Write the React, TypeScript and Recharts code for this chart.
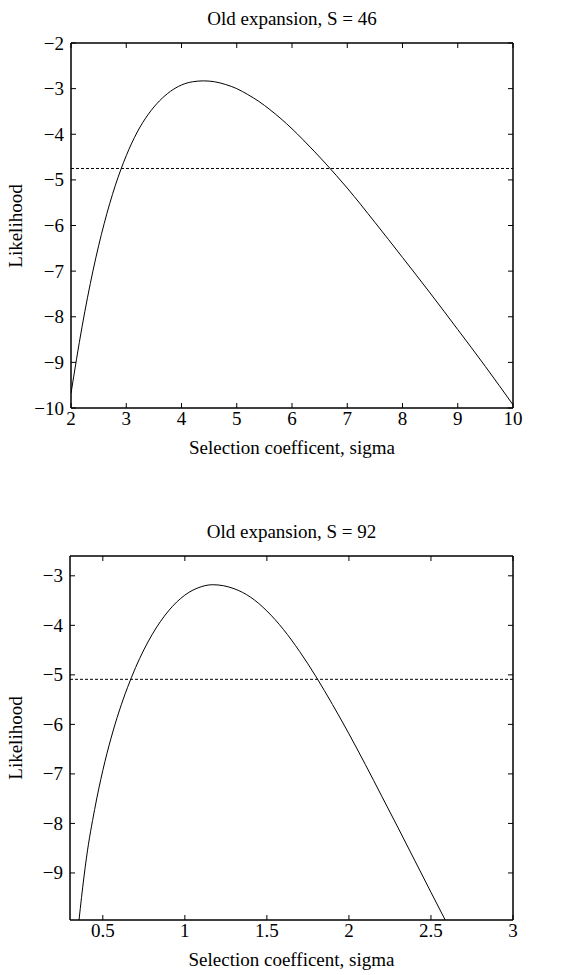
import React from 'react';
import { LineChart, Line, XAxis, YAxis, ReferenceLine, ReferenceArea } from 'recharts';

const FONT = '"Liberation Serif", "Times New Roman", serif';
const FS = 19;

// Top panel: Old expansion, S = 46
const topSigma = [2.0, 2.2, 2.4, 2.6, 2.8, 3.0, 3.2, 3.4, 3.6, 3.8, 4.0, 4.2, 4.4, 4.6, 4.8, 5.0, 5.2, 5.4, 5.6, 5.8, 6.0, 6.2, 6.4, 6.6, 6.8, 7.0, 7.5, 8.0, 8.5, 9.0, 9.5, 10.0];
const topLik = [-9.68, -8.22, -6.98, -5.96, -5.13, -4.47, -3.95, -3.56, -3.27, -3.06, -2.92, -2.85, -2.83, -2.85, -2.91, -3.0, -3.13, -3.28, -3.46, -3.66, -3.88, -4.12, -4.37, -4.63, -4.9, -5.18, -5.93, -6.7, -7.48, -8.28, -9.09, -9.93];
const topCutoff = -4.75;
const topXTicks = [2, 3, 4, 5, 6, 7, 8, 9, 10];
const topYTicks = [-10, -9, -8, -7, -6, -5, -4, -3, -2];
const topXDomain = [2, 10];
const topYDomain = [-10, -2];

// Bottom panel: Old expansion, S = 92
const botSigma = [0.355, 0.37, 0.4, 0.45, 0.5, 0.55, 0.6, 0.65, 0.7, 0.8, 0.9, 1.0, 1.1, 1.17, 1.3, 1.4, 1.5, 1.6, 1.7, 1.8, 1.9, 2.0, 2.1, 2.2, 2.3, 2.4, 2.5, 2.59];
const botLik = [-9.95, -9.5, -8.7, -7.72, -6.93, -6.28, -5.73, -5.26, -4.85, -4.19, -3.71, -3.39, -3.22, -3.18, -3.26, -3.43, -3.71, -4.08, -4.53, -5.04, -5.6, -6.19, -6.81, -7.45, -8.09, -8.74, -9.39, -9.97];
const botCutoff = -5.09;
const botXTicks = [0.5, 1, 1.5, 2, 2.5, 3];
const botYTicks = [-9, -8, -7, -6, -5, -4, -3];
const botXDomain = [0.3, 3];
const botYDomain = [-9.95, -2.6];

const titles = ['Old expansion, S = 46', 'Old expansion, S = 92'];
const xLabel = 'Selection coefficent, sigma';
const yLabel = 'Likelihood';

const fmt = (v: number) => String(v).replace('-', '\u2212');
const TL = 5;

const BottomTick = (props: any) => {
  const { x, y, payload } = props;
  return (
    <g>
      <line x1={x} y1={y} x2={x} y2={y - TL} stroke="#000" strokeWidth={1} />
      <text x={x} y={y + 17} textAnchor="middle" fontSize={FS} fontFamily={FONT} fill="#000">
        {fmt(payload.value)}
      </text>
    </g>
  );
};
const TopTick = (props: any) => {
  const { x, y } = props;
  return <line x1={x} y1={y} x2={x} y2={y + TL} stroke="#000" strokeWidth={1} />;
};
const LeftTick = (props: any) => {
  const { x, y, payload } = props;
  return (
    <g>
      <line x1={x} y1={y} x2={x + TL} y2={y} stroke="#000" strokeWidth={1} />
      <text x={x - 7} y={y + 6.5} textAnchor="end" fontSize={FS} fontFamily={FONT} fill="#000">
        {fmt(payload.value)}
      </text>
    </g>
  );
};
const RightTick = (props: any) => {
  const { x, y } = props;
  return <line x1={x} y1={y} x2={x - TL} y2={y} stroke="#000" strokeWidth={1} />;
};

type PanelProps = {
  sigma: number[];
  lik: number[];
  cutoff: number;
  xTicks: number[];
  yTicks: number[];
  xDomain: number[];
  yDomain: number[];
  top: number;
  plotTop: number;
  plotBottom: number;
  plotLeft: number;
  plotRight: number;
  title: string;
};

function Panel(p: PanelProps) {
  const W = 569;
  const H = 475;
  const data = p.sigma.map((s, i) => ({ s, L: p.lik[i] }));
  const axisH = 30;
  const line = { stroke: '#000', strokeWidth: 1 };
  const cx = (p.plotLeft + p.plotRight) / 2;
  const textStyle: React.CSSProperties = {
    position: 'absolute',
    height: 24,
    lineHeight: '24px',
    textAlign: 'center',
    fontSize: FS,
    fontFamily: FONT,
    color: '#000',
    whiteSpace: 'nowrap',
  };
  return (
    <div style={{ position: 'absolute', left: 0, top: p.top, width: W, height: H }}>
      <LineChart
        width={W}
        height={H}
        data={data}
        margin={{ top: p.plotTop - 1, right: W - p.plotRight - 1, bottom: H - p.plotBottom - axisH, left: 0 }}
      >
        <XAxis
          xAxisId="b"
          dataKey="s"
          type="number"
          domain={p.xDomain}
          ticks={p.xTicks}
          interval={0}
          allowDataOverflow
          height={axisH}
          tickSize={0}
          tickMargin={0}
          axisLine={line}
          tickLine={false}
          tick={<BottomTick />}
        />
        <XAxis
          xAxisId="t"
          orientation="top"
          dataKey="s"
          type="number"
          domain={p.xDomain}
          ticks={p.xTicks}
          interval={0}
          allowDataOverflow
          height={1}
          tickSize={0}
          tickMargin={0}
          axisLine={line}
          tickLine={false}
          tick={<TopTick />}
        />
        <YAxis
          yAxisId="l"
          type="number"
          domain={p.yDomain}
          ticks={p.yTicks}
          interval={0}
          allowDataOverflow
          width={p.plotLeft}
          tickSize={0}
          tickMargin={0}
          axisLine={line}
          tickLine={false}
          tick={<LeftTick />}
        />
        <YAxis
          yAxisId="r"
          orientation="right"
          type="number"
          domain={p.yDomain}
          ticks={p.yTicks}
          interval={0}
          allowDataOverflow
          width={1}
          tickSize={0}
          tickMargin={0}
          axisLine={line}
          tickLine={false}
          tick={<RightTick />}
        />
        <ReferenceArea
          xAxisId="b"
          yAxisId="l"
          x1={p.xDomain[0]}
          x2={p.xDomain[1]}
          y1={p.yDomain[0]}
          y2={p.yDomain[1]}
          fill="none"
          fillOpacity={0}
          stroke="#000"
          strokeWidth={1}
        />
        <ReferenceLine xAxisId="b" yAxisId="l" y={p.cutoff} stroke="#000" strokeWidth={1} strokeDasharray="3 2" />
        <Line
          xAxisId="b"
          yAxisId="l"
          dataKey="L"
          type="monotone"
          stroke="#000"
          strokeWidth={1}
          dot={false}
          activeDot={false}
          isAnimationActive={false}
        />
        <Line
          xAxisId="t"
          yAxisId="r"
          dataKey="L"
          stroke="none"
          dot={false}
          activeDot={false}
          isAnimationActive={false}
        />
      </LineChart>
      <div style={{ ...textStyle, left: cx - 200, width: 400, top: p.plotTop - 36 }}>{p.title}</div>
      <div style={{ ...textStyle, left: cx - 200, width: 400, top: p.plotBottom + 28 }}>{xLabel}</div>
      <div
        style={{
          ...textStyle,
          left: 16 - 100,
          width: 200,
          top: (p.plotTop + p.plotBottom) / 2 - 12,
          transform: 'rotate(-90deg)',
        }}
      >
        {yLabel}
      </div>
    </div>
  );
}

export default function App() {
  return (
    <div style={{ position: 'absolute', left: 0, top: 0, width: 569, height: 975, background: '#fff' }}>
      <Panel
        sigma={topSigma}
        lik={topLik}
        cutoff={topCutoff}
        xTicks={topXTicks}
        yTicks={topYTicks}
        xDomain={topXDomain}
        yDomain={topYDomain}
        top={0}
        plotTop={43}
        plotBottom={408}
        plotLeft={71}
        plotRight={513}
        title={titles[0]}
      />
      <Panel
        sigma={botSigma}
        lik={botLik}
        cutoff={botCutoff}
        xTicks={botXTicks}
        yTicks={botYTicks}
        xDomain={botXDomain}
        yDomain={botYDomain}
        top={500}
        plotTop={56}
        plotBottom={420}
        plotLeft={70}
        plotRight={513}
        title={titles[1]}
      />
    </div>
  );
}
